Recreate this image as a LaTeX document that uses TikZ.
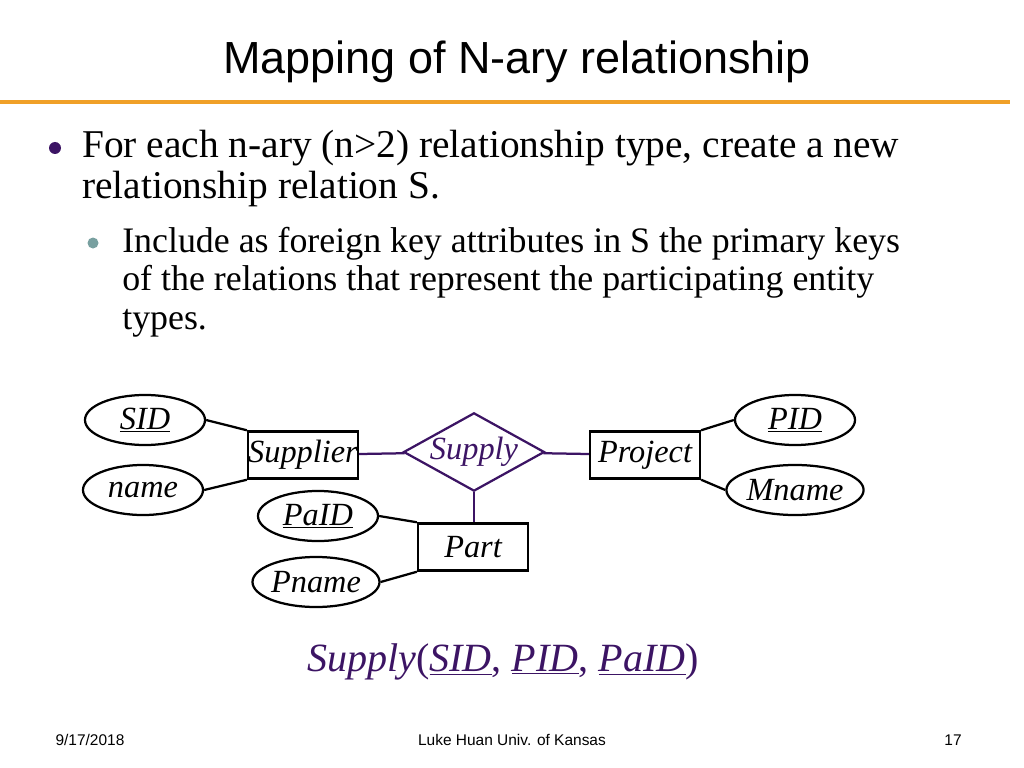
\documentclass[tikz,border=0pt]{standalone}
\usepackage{fontspec}
\setmainfont{Liberation Serif}
\setsansfont{Liberation Sans}
\usetikzlibrary{shapes.geometric, positioning}
\definecolor{rulegold}{RGB}{240,160,40}
\definecolor{relpurple}{RGB}{60,20,100}
\definecolor{subdot}{RGB}{120,160,160}
\tikzset{
  attr/.style={ellipse, draw, line width=1.6pt, minimum width=3cm, minimum height=1.25cm, inner sep=0pt, font=\fontsize{23}{26}\selectfont\itshape},
  entity/.style={rectangle, draw, line width=1.6pt, minimum width=2.75cm, minimum height=1.18cm, inner sep=0pt, font=\fontsize{23}{26}\selectfont\itshape},
  rel/.style={diamond, draw=relpurple, line width=1.6pt, minimum width=3.2cm, minimum height=1.75cm, inner sep=0pt, aspect=1.8, text=relpurple, font=\fontsize{23}{26}\selectfont\itshape},
  link/.style={line width=1.6pt},
  rellink/.style={line width=1.6pt, relpurple}
}
\begin{document}
\begin{tikzpicture}[x=0.025cm, y=-0.025cm]
\useasboundingbox (0,0) rectangle (1024,768);

% title and rule
\node[font=\sffamily\fontsize{32}{36}\selectfont] (title) at (517,62) {Mapping of N-ary relationship};
\draw[rulegold, line width=2.5pt] (0,102) -- (1010,102);

% bullets
\fill[relpurple] (55,148) circle (6);
\node[anchor=base west, align=left, inner sep=0pt, font=\fontsize{28}{28.5}\selectfont] (b1) at (82,198)
  {For each n-ary (n>2) relationship type, create a new\\relationship relation S.};
\fill[subdot] (93,243) circle (5.5);
\node[anchor=base west, align=left, inner sep=0pt, font=\fontsize{25.5}{27.3}\selectfont] (b2) at (122,329)
  {Include as foreign key attributes in S the primary keys\\of the relations that represent the participating entity\\types.};

% ER diagram
\node[attr] (sid) at (145,420) {\underline{SID}};
\node[attr] (sname) at (143,490) {name};
\node[entity] (supplier) at (303,455) {Supplier};
\node[rel] (supply) at (474,452) {Supply};
\node[entity] (project) at (645,455) {Project};
\node[attr] (pid) at (795,420) {\underline{PID}};
\node[attr] (mname) at (795,490) {Mname};
\node[attr] (paid) at (318,516) {\underline{PaID}};
\node[entity] (part) at (473,547) {Part};
\node[attr] (pname) at (316,582) {Pname};

\draw[link] (sid.east) -- (supplier.north west);
\draw[link] (sname.east) -- (supplier.south west);
\draw[link] (pid.west) -- (project.north east);
\draw[link] (mname.west) -- (project.south east);
\draw[link] (paid.east) -- (part.north west);
\draw[link] (pname.east) -- (part.south west);
\draw[rellink] (supplier) -- (supply);
\draw[rellink] (supply) -- (project);
\draw[rellink] (supply.south) -- (part.north -| supply.south);

% relation schema
\node[text=relpurple, font=\fontsize{28.5}{32}\selectfont\itshape] (schema) at (503,662)
  {Supply\textup{(}\underline{SID}\textup{,} \underline{PID}\textup{,} \underline{PaID}\textup{)}};

% footer
\node[font=\sffamily\fontsize{11}{13}\selectfont] (date) at (90,740) {9/17/2018};
\node[font=\sffamily\fontsize{11}{13}\selectfont] (author) at (512,740) {Luke Huan Univ. of Kansas};
\node[font=\sffamily\fontsize{11}{13}\selectfont] (page) at (953,740) {17};
\end{tikzpicture}
\end{document}
